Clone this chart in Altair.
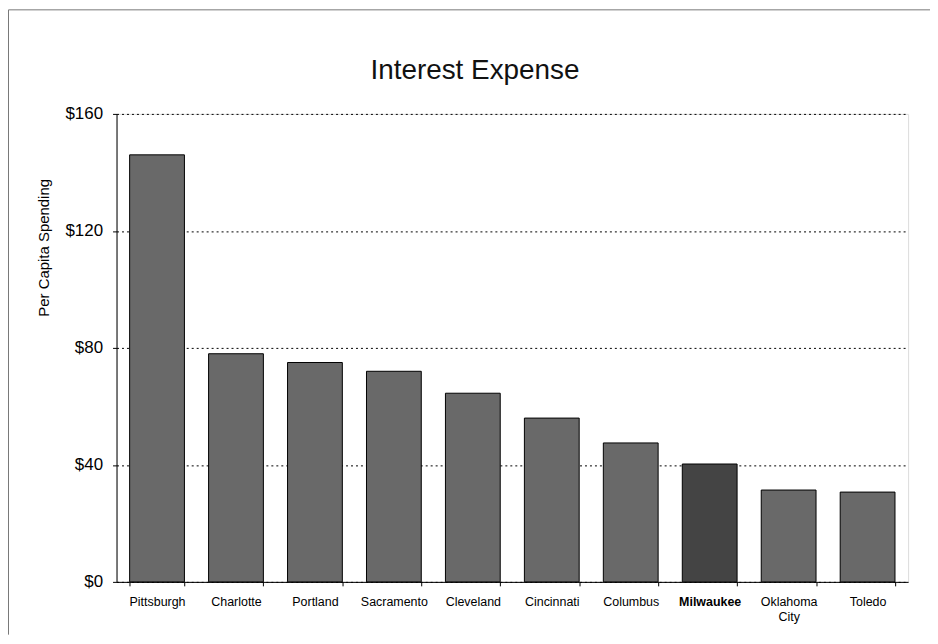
import altair as alt
import pandas as pd

cities = ["Pittsburgh", "Charlotte", "Portland", "Sacramento", "Cleveland",
          "Cincinnati", "Columbus", "Milwaukee", "Oklahoma City", "Toledo"]
values = [146, 78, 75, 72, 64.5, 56, 47.5, 40.3, 31.4, 30.7]
highlight = "Milwaukee"
title_text = "Interest Expense"

df = pd.DataFrame({"city": cities, "value": values})
df["hl"] = df["city"] == highlight

W, H = 795, 470
FONT = "Liberation Sans"

x_enc = alt.X("city:N", sort=cities, title=None,
              scale=alt.Scale(paddingInner=0.306, paddingOuter=0.166),
              axis=alt.Axis(labelAngle=0, labelFontSize=12.5, labelFont=FONT,
                            labelColor="black", labelPadding=10, labelBaseline="top",
                            tickBand="extent", labelLineHeight=15,
                            tickSize=4, tickColor="black", domainColor="black",
                            labelExpr="datum.label == 'Oklahoma City' ? ['Oklahoma', 'City'] : datum.label",
                            labelFontWeight={"condition": {"test": "datum.value == 'Milwaukee'", "value": "bold"}, "value": "normal"}))

y_enc = alt.Y("value:Q", title="Per Capita Spending",
              scale=alt.Scale(domain=[0, 160], nice=False),
              axis=alt.Axis(values=[0, 40, 80, 120, 160], format="$,.0f",
                            labelFontSize=17, labelFont=FONT, labelColor="black",
                            labelPadding=10, tickSize=4, tickColor="black", domainColor="black",
                            grid=True, gridColor="black", gridDash=[2, 3], gridWidth=1,
                            titleFont=FONT, titleFontSize=15, titleFontWeight="normal",
                            titleColor="black", titleX=-73, titleY=134, titleAngle=-90,
                            titleAlign="center", titleBaseline="middle"))

bars = alt.Chart(df).mark_bar(stroke="black", strokeWidth=1).encode(
    x=x_enc,
    y=y_enc,
    color=alt.condition("datum.hl", alt.value("#444444"), alt.value("#696969")),
)

title = alt.Chart(pd.DataFrame({"t": [title_text]})).mark_text(
    font=FONT, fontSize=28, color="#111111", align="center", baseline="alphabetic"
).encode(text="t:N", x=alt.value(360), y=alt.value(-35))

one = pd.DataFrame({"a": [0]})
frame_top = alt.Chart(one).mark_rule(stroke="#777777", strokeWidth=1, clip=False).encode(
    x=alt.value(-108.5), x2=alt.value(W + 22), y=alt.value(-104.5),
)
frame_left = alt.Chart(one).mark_rule(stroke="#777777", strokeWidth=1, clip=False).encode(
    x=alt.value(-108.5), y=alt.value(-104.5), y2=alt.value(H + 53),
)

chart = alt.layer(bars, title, frame_top, frame_left).properties(
    width=W, height=H,
    autosize=alt.AutoSizeParams(type="none"),
    padding={"left": 109, "top": 105, "right": 22, "bottom": 53},
).configure_view(stroke="black", strokeWidth=1).configure(background="white")

chart.save("out.html", embed_options={"renderer": "svg", "actions": False})
